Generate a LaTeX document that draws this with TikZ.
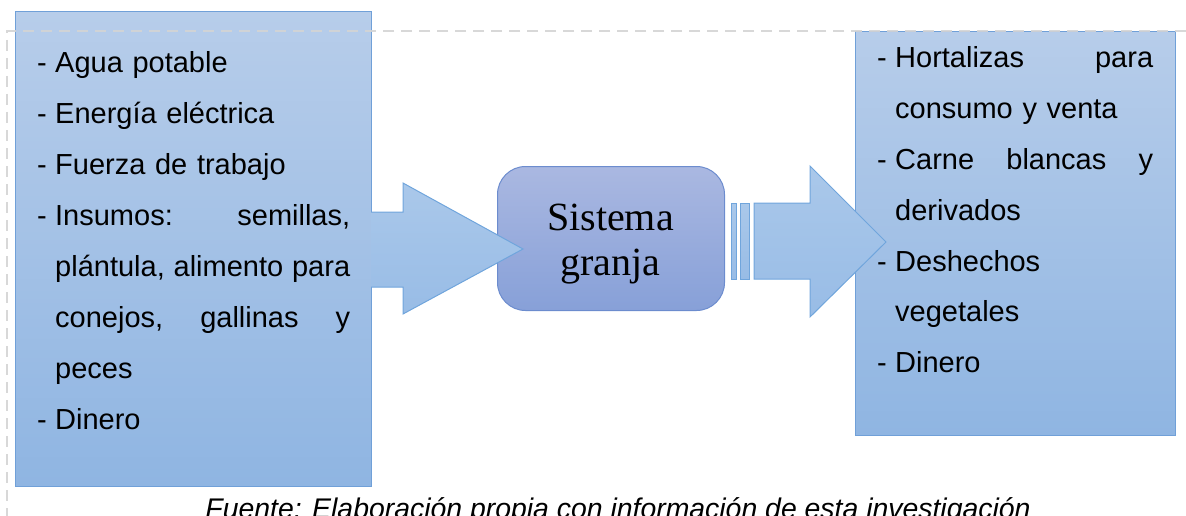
\documentclass[tikz,border=0pt]{standalone}
\usepackage{fontspec}
\setmainfont{Liberation Sans}
\newfontfamily\timesfont{Liberation Serif}
\definecolor{boxtop}{RGB}{183,205,234}
\definecolor{boxbot}{RGB}{143,181,226}
\definecolor{boxline}{RGB}{112,160,216}
\definecolor{systop}{RGB}{170,184,225}
\definecolor{sysbot}{RGB}{135,160,216}
\definecolor{sysline}{RGB}{108,140,206}
\definecolor{arrtop}{RGB}{170,200,234}
\definecolor{arrbot}{RGB}{152,188,230}
\definecolor{arrline}{RGB}{112,165,220}
\definecolor{dashgray}{RGB}{212,212,212}
\newcommand{\itemdash}{\makebox[18pt][l]{-}}
\newcommand{\itemind}{\hspace*{18pt}}
\begin{document}
\begin{tikzpicture}[x=1pt,y=-1pt,
  bluebox/.style={rectangle, draw=boxline, line width=1pt, top color=boxtop, bottom color=boxbot, inner sep=0pt, anchor=north west},
  sysbox/.style={rectangle, rounded corners=28pt, draw=sysline, line width=1pt, top color=systop, bottom color=sysbot, inner sep=0pt, anchor=north west},
  arrfill/.style={top color=arrtop, bottom color=arrbot},
  arrstroke/.style={draw=arrline, line width=1pt, line join=miter},
  listtext/.style={inner sep=0pt, anchor=base west, align=left},
  dashline/.style={draw=dashgray, line width=2pt, dash pattern=on 11pt off 7pt, opacity=0.9}]
\useasboundingbox (0,0) rectangle (1186,516);
\clip (0,0) rectangle (1186,516);
% boxes
\node[bluebox, minimum width=356pt, minimum height=475pt] (inbox) at (15,11) {};
\node[bluebox, minimum width=320pt, minimum height=404pt] (outbox) at (855,31) {};
\node[sysbox, minimum width=227pt, minimum height=144pt] (sys) at (497,166) {};
% left arrow
\shade[arrfill] (371,212) -- (403,212) -- (403,183) -- (523,249) -- (403,314) -- (403,287) -- (371,287) -- cycle;
\draw[arrstroke] (371,212) -- (403,212) -- (403,183) -- (523,249) -- (403,314) -- (403,287) -- (371,287);
% right striped arrow
\shade[arrfill] (731,203) rectangle (736,279);
\draw[arrstroke] (731,203) rectangle (736,279);
\shade[arrfill] (740,203) rectangle (749,279);
\draw[arrstroke] (740,203) rectangle (749,279);
\shade[arrfill] (754,203) -- (810,203) -- (810,166) -- (886,242) -- (810,317) -- (810,279) -- (754,279) -- cycle;
\draw[arrstroke] (754,203) -- (810,203) -- (810,166) -- (886,242) -- (810,317) -- (810,279) -- (754,279) -- cycle;
% dashed frame
\draw[dashline] (1186,31) -- (7,31) -- (7,516);
% texts
\node[listtext, text width=313pt, font=\fontsize{29}{51}\selectfont] (intext) at (37,73) {%
\itemdash Agua potable\\
\itemdash Energía eléctrica\\
\itemdash Fuerza de trabajo\\
\itemdash Insumos:\hfill semillas,\\
\itemind plántula,\hfill alimento\hfill para\\
\itemind conejos,\hfill gallinas\hfill y\\
\itemind peces\\
\itemdash Dinero};
\node[listtext, text width=276pt, font=\fontsize{29}{50.8}\selectfont] (outtext) at (877,68) {%
\itemdash Hortalizas\hfill para\\
\itemind consumo y venta\\
\itemdash Carne\hfill blancas\hfill y\\
\itemind derivados\\
\itemdash Deshechos\\
\itemind vegetales\\
\itemdash Dinero};
\node[inner sep=0pt, anchor=base, text width=200pt, align=center, font=\timesfont\fontsize{40}{45}\selectfont] (systext) at (610.5,230) {Sistema\\granja};
\node[inner sep=0pt, anchor=base, font=\itshape\fontsize{28.4}{30}\selectfont] (src) at (618,518) {Fuente: Elaboración propia con información de esta investigación};
\end{tikzpicture}
\end{document}
